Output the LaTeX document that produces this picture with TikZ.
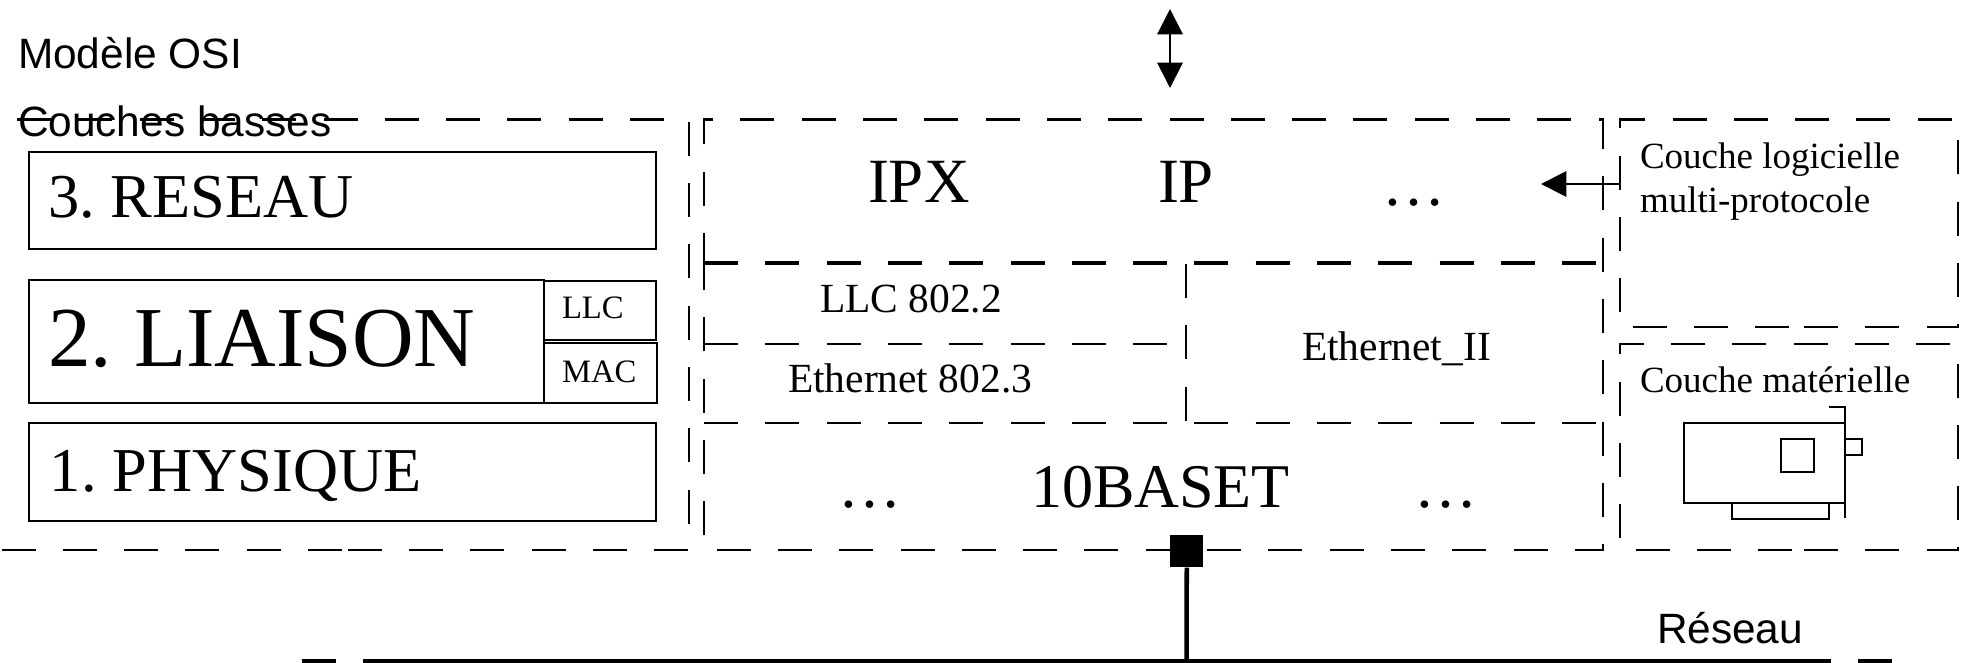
\documentclass[tikz,border=0pt]{standalone}
\usepackage{fontspec}
\setmainfont{Liberation Serif}
\newfontfamily\arialish{Liberation Sans}
\newfontfamily\bigserif[WordSpace=0.7]{Liberation Serif}
\usetikzlibrary{arrows.meta}
\tikzset{
  tx/.style={anchor=base west,inner sep=0pt,outer sep=0pt},
  sansL/.style={tx,font=\arialish\fontsize{31.8}{36}\selectfont},
  serifXL/.style={tx,font=\bigserif\fontsize{64}{70}\selectfont},
  serifB/.style={tx,font=\bigserif\fontsize{46.8}{52}\selectfont},
  serifL/.style={tx,font=\fontsize{47.25}{52}\selectfont},
  serifM/.style={tx,font=\fontsize{31.1}{34}\selectfont},
  serifS/.style={tx,font=\fontsize{27.75}{32}\selectfont},
  serifXS/.style={tx,font=\fontsize{24.5}{28}\selectfont},
  dsh/.style={line width=2.1pt,dash pattern=on 25.5pt off 20.475pt},
  dshthick/.style={dsh,line width=2.6pt},
  boxline/.style={line width=1.5pt,line join=miter},
  cardline/.style={line width=1.3pt},
  arrowline/.style={line width=1.6pt},
  bigtip/.style={-{Triangle[length=19pt,width=19pt]}},
  bothtips/.style={{Triangle[length=19pt,width=19pt]}-{Triangle[length=19pt,width=19pt]}},
}
\begin{document}
\begin{tikzpicture}[x=0.75pt,y=-0.75pt]
\useasboundingbox (0,0) rectangle (1961,663);
% dashed frames
\draw[dsh] (17,119.5) -- (689,119.5) -- (689,550) -- (348,550);
\draw[dsh] (342,550) -- (2,550);
\draw[dsh] (704,267) -- (704,119.5) -- (1603,119.5) -- (1603,550) -- (704,550) -- cycle;
\draw[dsh] (1804,327) -- (1958,327) -- (1958,119.5) -- (1620,119.5) -- (1620,327) -- cycle;
\draw[dsh] (1804,550) -- (1958,550) -- (1958,344) -- (1620,344) -- (1620,550) -- cycle;
\draw[dshthick] (704,263) -- (1603,263);
\draw[dsh] (704,344) -- (1170,344);
\draw[dsh] (704,423) -- (1603,423);
\draw[dsh] (1186,264) -- (1186,423);
% OSI boxes
\node[draw,boxline,minimum width=627*0.75pt,minimum height=97*0.75pt,inner sep=0pt,anchor=north west] (reseau) at (28,151) {};
\node[draw,boxline,minimum width=515*0.75pt,minimum height=123*0.75pt,inner sep=0pt,anchor=north west] (liaison) at (28,279) {};
\node[draw,boxline,minimum width=112*0.75pt,minimum height=59*0.75pt,inner sep=0pt,anchor=north west] (llc) at (543,280) {};
\node[draw,boxline,minimum width=113*0.75pt,minimum height=60*0.75pt,inner sep=0pt,anchor=north west] (mac) at (543,342) {};
\node[draw,boxline,minimum width=627*0.75pt,minimum height=98*0.75pt,inner sep=0pt,anchor=north west] (physique) at (28,422) {};
% texts
\node[sansL] (t1) at (18,69) {Modèle OSI};
\node[sansL] (t2) at (18,137) {Couches basses};
\node[serifB] (t3) at (48,218) {3. RESEAU};
\node[serifXL] (t4) at (48,366) {2. LIAISON};
\node[serifB] (t5) at (50,491) {1. PHYSIQUE};
\node[serifXS] (t6) at (562,318) {LLC};
\node[serifXS] (t7) at (562,382) {MAC};
\node[serifL] (t8) at (868,203) {IPX};
\node[serifL] (t9) at (1158,203) {IP};
\node[serifL] (t10) at (1382,206) {…};
\node[serifM] (t11) at (820,312) {LLC 802.2};
\node[serifM] (t12) at (788,392) {Ethernet 802.3};
\node[serifM] (t13) at (1302,360) {Ethernet\_II};
\node[serifL] (t14) at (838,507) {…};
\node[tx,font=\fontsize{46.6}{52}\selectfont] (t15) at (1031,507) {10BASET};
\node[serifL] (t16) at (1414,507) {…};
\node[serifS] (t17) at (1640,169) {Couche logicielle};
\node[serifS] (t18) at (1640,213) {multi-protocole};
\node[serifS] (t19) at (1640,392) {Couche matérielle};
\node[sansL] (t20) at (1657,643) {Réseau};
% arrows
\coordinate (updown1) at (1170,9);
\coordinate (updown2) at (1170,88);
\draw[arrowline,bothtips] (updown1) -- (updown2);
\coordinate (tipL) at (1541,184);
\coordinate (tailL) at (1620,184);
\draw[arrowline,bigtip] (tailL) -- (tipL);
% network attachment
\node[fill=black,draw=none,minimum width=33*0.75pt,minimum height=32*0.75pt,inner sep=0pt,anchor=north west] (plug) at (1170,535) {};
\coordinate (netjoin) at (1186.5,661);
\draw[line width=3.4pt] (plug.south) -- (netjoin);
\coordinate (netL) at (397,661);
\coordinate (netR) at (1797,661);
\draw[line width=2.8pt] (netL) -- (netR);
\draw[line width=3.4pt,dash pattern=on 25.5pt off 20.475pt] (netL) -- (302,661);
\draw[line width=3.4pt,dash pattern=on 25.5pt off 20.475pt] (netR) -- (1893,661);
% network card
\draw[cardline] (1684,423) rectangle (1845,503);
\draw[cardline] (1829,407) -- (1845,407) -- (1845,518);
\draw[cardline] (1781,439) rectangle (1814,472);
\draw[cardline] (1845,439) rectangle (1862,455);
\draw[cardline] (1732,503) rectangle (1829,519);
\end{tikzpicture}
\end{document}
